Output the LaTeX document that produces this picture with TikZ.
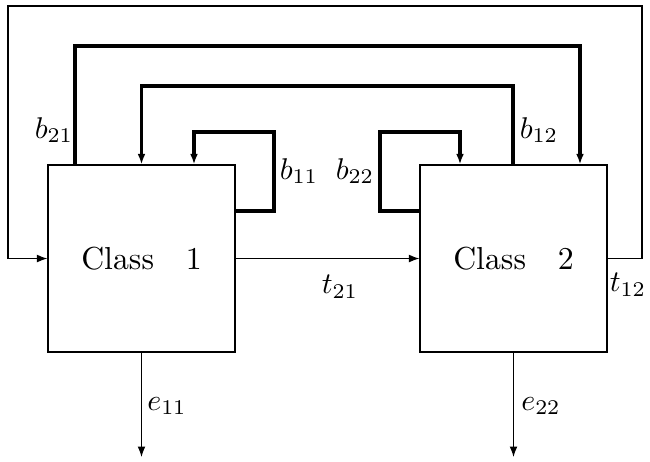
\documentclass[tikz,border=0pt]{standalone}
\usetikzlibrary{arrows.meta}
\begin{document}
\begin{tikzpicture}[x=0.3333pt,y=-0.3333pt,
  cls/.style={draw, minimum width=62.3pt, minimum height=62.3pt, inner sep=0pt, line width=0.4pt, font=\fontsize{10.6pt}{13pt}\selectfont},
  flow/.style={line width=0.4pt, -{Latex[length=3.5pt,width=2.6pt]}},
  fb/.style={line width=1.3pt, -{Latex[length=3.5pt,width=2.6pt]}},
  lbl/.style={inner sep=0pt}]
\useasboundingbox (0,0) rectangle (650,461);
\node[cls] (c1) at (141.5,258.5) {Class\quad 1};
\node[cls] (c2) at (513.5,258.5) {Class\quad 2};
% feedback loops
\draw[fb] (75,0 |- c1.north) -- (75,46) -- (580,46) -- (580,0 |- c2.north);
\draw[fb] (513,0 |- c2.north) -- (513,86) -- (141.5,86) -- (c1.north);
\draw[fb] (c1.east |- 0,211) -- (274,211) -- (274,132) -- (194,132) -- (194,0 |- c1.north);
\draw[fb] (c2.west |- 0,211) -- (380,211) -- (380,132) -- (460,132) -- (460,0 |- c2.north);
% transfers
\draw[flow] (c1.east) -- (c2.west);
\draw[flow] (c2.east) -- (642,0 |- c2.east) -- (642,6) -- (8,6) -- (8,0 |- c1.west) -- (c1.west);
% exits
\coordinate (x1) at (141.5,457);
\coordinate (x2) at (513.5,457);
\draw[flow] (c1.south) -- (x1);
\draw[flow] (c2.south) -- (x2);
% labels
\node[lbl] at (54,130) {$b_{21}$};
\node[lbl] at (539,130) {$b_{12}$};
\node[lbl] at (299,171) {$b_{11}$};
\node[lbl] at (355,171) {$b_{22}$};
\node[lbl] at (340,287) {$t_{21}$};
\node[lbl] at (628,285) {$t_{12}$};
\node[lbl] at (167,406) {$e_{11}$};
\node[lbl] at (541,406) {$e_{22}$};
\end{tikzpicture}
\end{document}
